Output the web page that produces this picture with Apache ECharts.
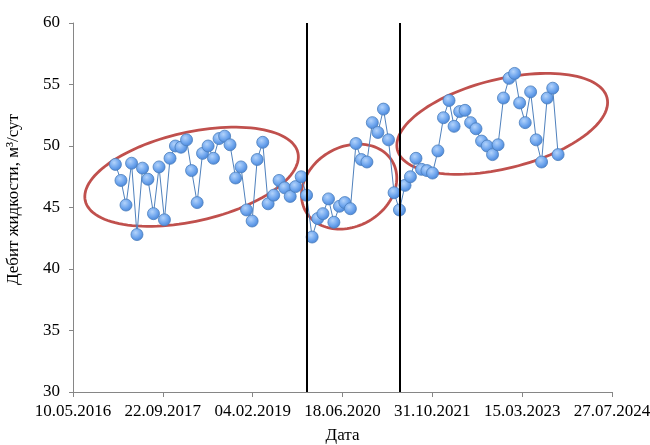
<!DOCTYPE html>
<html>
<head>
<meta charset="utf-8">
<script src="https://cdn.jsdelivr.net/npm/echarts@6/dist/echarts.min.js"></script>
<style>
html,body{margin:0;padding:0;background:#fff;}
#chart{width:650px;height:445px;}
</style>
</head>
<body>
<div id="chart"></div>
<script>
// ---- data ----
const dates = [
  '2017-01-01','2017-02-01','2017-03-01','2017-04-01','2017-05-01','2017-06-01','2017-07-01','2017-08-01','2017-09-01','2017-10-01','2017-11-01','2017-12-01',
  '2018-01-01','2018-02-01','2018-03-01','2018-04-01','2018-05-01','2018-06-01','2018-07-01','2018-08-01','2018-09-01','2018-10-01','2018-11-01','2018-12-01',
  '2019-01-01','2019-02-01','2019-03-01','2019-04-01','2019-05-01','2019-06-01','2019-07-01','2019-08-01','2019-09-01','2019-10-01','2019-11-01','2019-12-01',
  '2020-01-01','2020-02-01','2020-03-01','2020-04-01','2020-05-01','2020-06-01','2020-07-01','2020-08-01','2020-09-01','2020-10-01','2020-11-01','2020-12-01',
  '2021-01-01','2021-02-01','2021-03-01','2021-04-01','2021-05-01','2021-06-01','2021-07-01','2021-08-01','2021-09-01','2021-10-01','2021-11-01','2021-12-01',
  '2022-01-01','2022-02-01','2022-03-01','2022-04-01','2022-05-01','2022-06-01','2022-07-01','2022-08-01','2022-09-01','2022-10-01','2022-11-01','2022-12-01',
  '2023-01-01','2023-02-01','2023-03-01','2023-04-01','2023-05-01','2023-06-01','2023-07-01','2023-08-01','2023-09-01','2023-10-01'
];
const flowRate = [
  48.5, 47.2, 45.2, 48.6, 42.8, 48.2, 47.3, 44.5, 48.3, 44.0, 49.0, 50.0,
  49.9, 50.5, 48.0, 45.4, 49.4, 50.0, 49.0, 50.6, 50.8, 50.1, 47.4, 48.3,
  44.8, 43.9, 48.9, 50.3, 45.3, 46.0, 47.2, 46.6, 45.9, 46.7, 47.5, 46.0,
  42.6, 44.1, 44.5, 45.7, 43.8, 45.1, 45.4, 44.9, 50.2, 48.9, 48.7, 51.9,
  51.1, 53.0, 50.5, 46.2, 44.8, 46.8, 47.5, 49.0, 48.1, 48.0, 47.8, 49.6,
  52.3, 53.7, 51.6, 52.8, 52.9, 51.9, 51.4, 50.4, 50.0, 49.3, 50.1, 53.9,
  55.5, 55.9, 53.5, 51.9, 54.4, 50.5, 48.7, 53.9, 54.7, 49.3
];
const dividerDates = ['2019-12-01', '2021-05-01'];
const groupCenterDates = ['2018-03-01', '2020-07-25', '2022-11-24'];
const groupCenterValues = [47.5, 46.7, 51.8];
const xTickRange = ['2016-05-10', '2024-07-27'];
const yRange = [30, 60];

// ---- annotation shapes (pixels / degrees) ----
const ellipseShapes = [
  { a: 109, b: 44.5, angle: 12.7 },
  { a: 50,  b: 39.7, angle: 30 },
  { a: 108, b: 44.6, angle: 13.9 }
];

// Excel-style serial day numbers
const EXCEL_EPOCH = Date.UTC(1899, 11, 30);
function serial(s) {
  const p = s.split('-').map(Number);
  return Math.round((Date.UTC(p[0], p[1] - 1, p[2]) - EXCEL_EPOCH) / 86400000);
}
function fmt(v) {
  const d = new Date(EXCEL_EPOCH + v * 86400000);
  const dd = String(d.getUTCDate()).padStart(2, '0');
  const mm = String(d.getUTCMonth() + 1).padStart(2, '0');
  return dd + '.' + mm + '.' + d.getUTCFullYear();
}

const points = dates.map((d, i) => [serial(d), flowRate[i]]);
const ellipseData = groupCenterDates.map((d, i) => [serial(d), groupCenterValues[i]]);

const FONT = '"Liberation Serif", "Times New Roman", serif';

const chart = echarts.init(document.getElementById('chart'), null, { renderer: 'canvas' });
chart.setOption({
  animation: false,
  backgroundColor: '#fff',
  grid: { left: 73, right: 38, top: 23, bottom: 53, containLabel: false, outerBoundsMode: 'none' },
  xAxis: {
    type: 'value',
    min: serial(xTickRange[0]),
    max: serial(xTickRange[1]),
    interval: 500,
    name: 'Дата',
    nameLocation: 'middle',
    nameGap: 35,
    nameTextStyle: { fontFamily: FONT, fontSize: 17, color: '#000' },
    axisLine: { show: true, lineStyle: { color: '#868686', width: 1 } },
    axisTick: { show: true, inside: false, length: 5, lineStyle: { color: '#868686' } },
    axisLabel: { formatter: fmt, fontFamily: FONT, fontSize: 17, color: '#000', margin: 11, showMinLabel: true, showMaxLabel: true, hideOverlap: false },
    splitLine: { show: false }
  },
  yAxis: {
    type: 'value',
    min: yRange[0],
    max: yRange[1],
    interval: 5,
    name: 'Дебит жидкости, м³/сут',
    nameLocation: 'middle',
    nameGap: 51,
    nameTextStyle: { fontFamily: FONT, fontSize: 17, color: '#000', padding: [0, 0, 0, 16] },
    axisLine: { show: true, lineStyle: { color: '#868686', width: 1 } },
    axisTick: { show: true, inside: false, length: 4, lineStyle: { color: '#868686' } },
    axisLabel: { fontFamily: FONT, fontSize: 17, color: '#000', margin: 13 },
    splitLine: { show: false }
  },
  series: [
    {
      type: 'custom',
      z: 1,
      silent: true,
      data: ellipseData,
      renderItem: function (params, api) {
        const c = api.coord([api.value(0), api.value(1)]);
        const s = ellipseShapes[params.dataIndex];
        const th = s.angle * Math.PI / 180;
        const pts = [];
        for (let k = 0; k < 120; k++) {
          const t = k / 120 * Math.PI * 2;
          const ex = s.a * Math.cos(t), ey = s.b * Math.sin(t);
          pts.push([c[0] + ex * Math.cos(th) - ey * Math.sin(th),
                    c[1] - (ex * Math.sin(th) + ey * Math.cos(th))]);
        }
        return {
          type: 'polygon',
          shape: { points: pts },
          style: { fill: 'none', stroke: '#c0504d', lineWidth: 2.8 }
        };
      }
    },
    {
      type: 'line',
      z: 3,
      data: points,
      symbol: 'circle',
      symbolSize: 12,
      showSymbol: true,
      lineStyle: { color: '#4f81bd', width: 1 },
      itemStyle: {
        color: new echarts.graphic.RadialGradient(0.4, 0.35, 0.65, [
          { offset: 0, color: '#b3d3fb' },
          { offset: 0.6, color: '#6fa6ee' },
          { offset: 1, color: '#4a86d8' }
        ]),
        borderColor: '#4a7ebb',
        borderWidth: 0.8
      },
      markLine: {
        silent: true,
        symbol: 'none',
        label: { show: false },
        lineStyle: { color: '#000', width: 2, type: 'solid' },
        data: dividerDates.map(d => ({ xAxis: serial(d) }))
      }
    }
  ]
});
</script>
</body>
</html>
